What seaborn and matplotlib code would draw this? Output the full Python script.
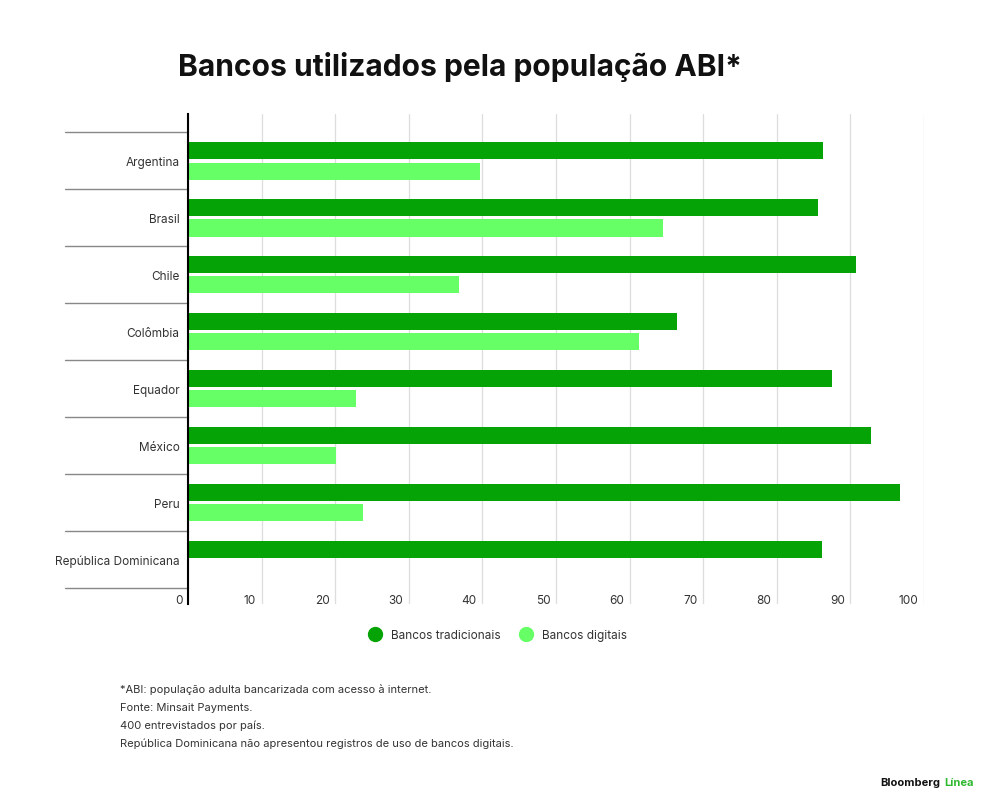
import pandas as pd
import matplotlib.pyplot as plt
import seaborn as sns
from matplotlib.transforms import ScaledTranslation
from matplotlib.lines import Line2D

# Data (% of banked adults with internet)
countries = ['Argentina', 'Brasil', 'Chile', 'Colômbia', 'Equador',
             'México', 'Peru', 'República Dominicana']
tradicionais = [86.3, 85.6, 90.8, 66.4, 87.5, 92.8, 96.7, 86.1]
digitais = [39.7, 64.5, 36.8, 61.3, 22.8, 20.1, 23.8, 0]
series_names = ['Bancos tradicionais', 'Bancos digitais']
x_ticks = [0, 10, 20, 30, 40, 50, 60, 70, 80, 90, 100]

dark_green = '#05a305'
light_green = '#66ff66'

df = pd.DataFrame({'pais': countries * 2,
                   'valor': tradicionais + digitais,
                   'tipo': [series_names[0]] * len(countries) + [series_names[1]] * len(countries)})

sns.set_style('white')
plt.rcParams['font.family'] = ['Inter', 'DejaVu Sans']

fig = plt.figure(figsize=(10, 8.12), dpi=100)
ax = fig.add_axes([0.188, 0.255, 0.736, 0.603])

sns.barplot(data=df, y='pais', x='valor', hue='tipo', orient='h',
            palette=[dark_green, light_green], saturation=1, width=0.72, gap=0.17,
            linewidth=0, legend=False, ax=ax)

ax.set_xlim(0, 100)
ax.set_ylim(7.78, -0.816)
ax.set_xticks(x_ticks)
ax.set_xticklabels([str(t) for t in x_ticks], ha='right')
ax.xaxis.grid(True, color='#dddddd', linewidth=0.9)
ax.set_axisbelow(True)
ax.set_xlabel('')
ax.set_ylabel('')
for side in ['top', 'right', 'bottom']:
    ax.spines[side].set_visible(False)
ax.spines['left'].set_color('black')
ax.spines['left'].set_linewidth(1.5)

ax.tick_params(axis='x', length=0, pad=-7, labelsize=8.5, labelcolor='#333333')
ax.tick_params(axis='y', length=0, pad=6, labelsize=8.5, labelcolor='#333333')
shift = ScaledTranslation(-4 / 72, 0, fig.dpi_scale_trans)
for lab in ax.get_xticklabels():
    lab.set_transform(lab.get_transform() + shift)

# separators between countries on the left
for i in range(len(countries) + 1):
    ax.plot([-0.167, 0], [i - 0.5, i - 0.5], transform=ax.get_yaxis_transform(),
            color='#888888', linewidth=1, clip_on=False)

fig.text(0.178, 0.918, 'Bancos utilizados pela população ABI*', fontsize=21.6,
         fontweight='bold', color='#111111', va='center', ha='left')

handles = [Line2D([], [], marker='o', linestyle='', markersize=10,
                  markerfacecolor=c, markeredgecolor=c) for c in [dark_green, light_green]]
fig.legend(handles, series_names, loc='center', bbox_to_anchor=(0.495, 0.217),
           ncol=2, frameon=False, fontsize=8.5, handletextpad=0.3, columnspacing=1.2,
           labelcolor='#333333')

notes = ['*ABI: população adulta bancarizada com acesso à internet.',
         'Fonte: Minsait Payments.',
         '400 entrevistados por país.',
         'República Dominicana não apresentou registros de uso de bancos digitais.']
for k, line in enumerate(notes):
    fig.text(0.12, 1 - (690 + 18 * k) / 812, line, fontsize=8, color='#333333', va='center')

fig.text(0.940, 1 - 783 / 812, 'Bloomberg', fontsize=8, fontweight='bold',
         color='#111111', ha='right', va='center')
fig.text(0.944, 1 - 783 / 812, 'Línea', fontsize=8, fontweight='bold',
         color='#2db82d', ha='left', va='center')

fig.savefig('out.png', dpi=100, facecolor='white')
